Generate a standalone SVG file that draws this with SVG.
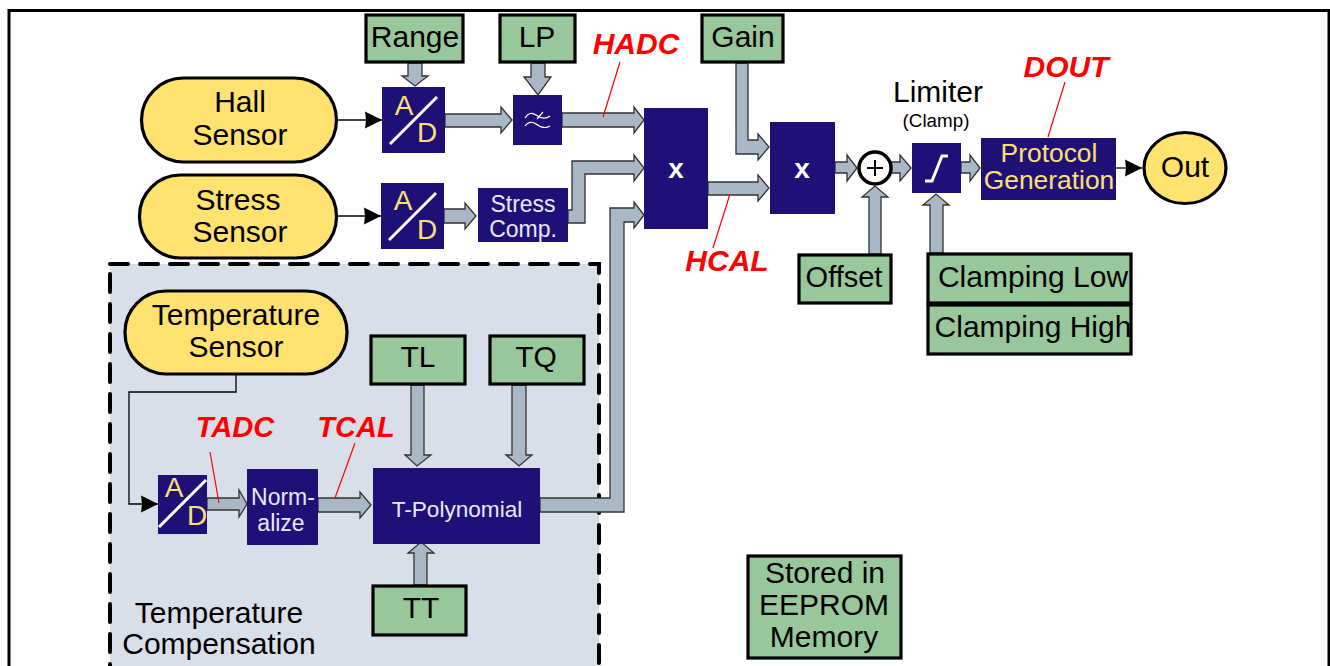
<svg xmlns="http://www.w3.org/2000/svg" width="1330" height="666" viewBox="0 0 1330 666">
<style>
text{font-family:"Liberation Sans",Arial,sans-serif;text-anchor:middle}
.t{font-size:30px;fill:#000}
.g rect{fill:#98c79c;stroke:#000;stroke-width:3.2}
.y{fill:#ffe26f;stroke:#000;stroke-width:3.2}
.b{fill:#1f1078}
.a{fill:#aab8c6;stroke:#333;stroke-width:1.3}
.w{fill:#e8e8f4;font-size:23px}
.o{fill:#fde072;font-size:28px}
.p{fill:#fde072;font-size:26.4px}
.r{font-size:30px;font-weight:bold;font-style:italic;fill:#f00}
.rl{stroke:#f00;stroke-width:1.2;fill:none}
.l{stroke:#000;stroke-width:1.3;fill:none}
.s{stroke:#fff;stroke-width:3;fill:none}
</style>
<defs>
<marker id="h" markerUnits="userSpaceOnUse" markerWidth="18" markerHeight="18" refX="17" refY="9" orient="auto"><path d="M0 0.5L17 9L0 17.5L1 9Z" fill="#000"/></marker>
</defs>
<rect x="9" y="10.5" width="1320" height="670" fill="#fff" stroke="#000" stroke-width="3"/>
<g id="temperature-compensation">
<rect x="110" y="264" width="489" height="440" fill="#d9dfe8"/>
<rect x="110" y="264" width="489" height="440" fill="none" stroke="#000" stroke-width="4" stroke-dasharray="18 12" stroke-linecap="round"/>
<text class="t" x="219" y="623">Temperature</text>
<text class="t" x="219" y="654">Compensation</text>
</g>
<g id="connectors">
<polygon class="a" points="408,63 422,63 422,76 428,76 415,86 402,76 408,76"/>
<polygon class="a" points="531,63 545,63 545,77 551,77 538,95 524,77 531,77"/>
<polygon class="a" points="445,114 501,114 501,107 512,120 501,133 501,127 445,127"/>
<polygon class="a" points="562,113 634,113 634,107 644,120 634,133 634,127 562,127"/>
<polygon class="a" points="444,209 465,209 465,203 476,216 465,229 465,223 444,223"/>
<polygon class="a" points="568,210 572,210 572,161 634,161 634,155 644,168 634,181 634,174 585,174 585,223 568,223"/>
<polygon class="a" points="540,498 610,498 610,208 634,208 634,202 644,215 634,228 634,222 624,222 624,512 540,512"/>
<polygon class="a" points="736,63 748,63 748,140 758,140 758,134 769,147 758,160 758,154 736,154"/>
<polygon class="a" points="708,182 758,182 758,175 769,188 758,201 758,195 708,195"/>
<polygon class="a" points="835,162 847,162 847,155 857,168 847,181 847,173 835,173"/>
<polygon class="a" points="891,162 900,162 900,155 911,168 900,181 900,173 891,173"/>
<polygon class="a" points="961,162 970,162 970,155 980,168 970,181 970,173 961,173"/>
<polygon class="a" points="869,254 869,197 862,197 875,186 888,197 881,197 881,254"/>
<polygon class="a" points="930,253 930,205 923,205 936,194 949,205 943,205 943,253"/>
<polygon class="a" points="207,498 239,498 239,490 247,504 239,517 239,510 207,510"/>
<polygon class="a" points="318,498 360,498 360,492 371,505 360,518 360,512 318,512"/>
<polygon class="a" points="411,385 424,385 424,455 431,455 417,466 405,455 411,455"/>
<polygon class="a" points="512,385 526,385 526,455 532,455 519,466 506,455 512,455"/>
<polygon class="a" points="414,585 414,553 408,553 421,542 434,553 427,553 427,585"/>
<path class="l" d="M336 120H382" marker-end="url(#h)"/>
<path class="l" d="M336 216H381" marker-end="url(#h)"/>
<path class="l" d="M1116 168H1142" marker-end="url(#h)"/>
<path class="l" d="M236 374V392H129V504H158" marker-end="url(#h)"/>
<path class="rl" d="M620 62L603 117M730 194L713 248M1065 82L1048 137M210 452L219 503M355 443L335 498"/>
</g>
<g id="range" class="g"><rect x="366" y="15" width="97" height="47"/><text class="t" x="415" y="47">Range</text></g>
<g id="lp" class="g"><rect x="500" y="15" width="75" height="47"/><text class="t" x="537" y="47">LP</text></g>
<g id="gain" class="g"><rect x="702" y="15" width="81" height="47"/><text class="t" x="743" y="47">Gain</text></g>
<g id="hall"><rect class="y" x="141.500" y="78" width="195" height="84" rx="42"/><text class="t" x="240" y="112">Hall</text><text class="t" x="240" y="145">Sensor</text></g>
<g id="stress"><rect class="y" x="139.500" y="175" width="197" height="83" rx="41"/><text class="t" x="238" y="210">Stress</text><text class="t" x="240" y="242">Sensor</text></g>
<g id="temp"><rect class="y" x="125" y="291" width="222" height="83" rx="41"/><text class="t" x="236" y="325">Temperature</text><text class="t" x="236" y="357">Sensor</text></g>
<g id="ad1"><rect class="b" x="382" y="87" width="63" height="66"/><path class="s" d="M390 144L437 97"/><text class="o" x="404" y="115">A</text><text class="o" x="427" y="142">D</text></g>
<g id="ad2"><rect class="b" x="381" y="183" width="63" height="66"/><path class="s" d="M389 240L436 193"/><text class="o" x="403" y="210">A</text><text class="o" x="427" y="239">D</text></g>
<g id="ad3"><rect class="b" x="158" y="475" width="49" height="59"/><path class="s" d="M159 527L206 480"/><text class="o" x="174" y="497">A</text><text class="o" x="197" y="525">D</text></g>
<g id="lowpass"><rect class="b" x="513" y="95" width="49" height="50"/><path d="M525 118C528 113 532 112 536 115S545 120 550 116M525 126C528 122 532 121 536 124S545 129 550 126M537 119L543 112" stroke="#fff" stroke-width="1.2" fill="none"/></g>
<g id="mult1"><rect class="b" x="644" y="108" width="64" height="121"/><text x="676" y="178" font-size="28" font-weight="bold" fill="#fff">x</text></g>
<g id="mult2"><rect class="b" x="770" y="122" width="65" height="92"/><text x="802" y="178" font-size="28" font-weight="bold" fill="#fff">x</text></g>
<g id="stresscomp"><rect class="b" x="478" y="188" width="90" height="54"/><text class="w" x="523" y="212">Stress</text><text class="w" x="523" y="237">Comp.</text></g>
<g id="normalize"><rect class="b" x="247" y="469" width="71" height="76"/><text class="w" x="283" y="505">Norm-</text><text class="w" x="281" y="531">alize</text></g>
<g id="tpoly"><rect class="b" x="373" y="468" width="167" height="76"/><text class="w" x="457" y="517" style="font-size:22.6px">T-Polynomial</text></g>
<g id="sum"><circle cx="875" cy="168" r="16" fill="#fff" stroke="#000" stroke-width="3.5"/><path d="M875 160V176M867 168H883" stroke="#000" stroke-width="2"/></g>
<g id="limiter"><rect class="b" x="912" y="143" width="49" height="50"/><path d="M925 181H932L942 156H948" stroke="#fff" stroke-width="3" fill="none"/><text class="t" x="938" y="102">Limiter</text><text x="936" y="127" font-size="18.800" fill="#000">(Clamp)</text></g>
<g id="protocol"><rect class="b" x="981" y="138" width="135" height="62"/><text class="p" x="1049" y="162">Protocol</text><text class="p" x="1049" y="189">Generation</text></g>
<g id="out"><ellipse class="y" cx="1185" cy="168" rx="41" ry="35.500"/><text class="t" x="1185" y="177">Out</text></g>
<g id="offset" class="g"><rect x="799" y="255" width="92" height="48"/><text class="t" x="844" y="287" style="font-size:29px">Offset</text></g>
<g id="clamplow" class="g"><rect x="928" y="254" width="203" height="49"/><text class="t" x="1033" y="287">Clamping Low</text></g>
<g id="clamphigh" class="g"><rect x="928" y="305" width="203" height="49"/><text class="t" x="1033" y="337">Clamping High</text></g>
<g id="tl" class="g"><rect x="371" y="336" width="94" height="48"/><text class="t" x="418" y="367">TL</text></g>
<g id="tq" class="g"><rect x="490" y="336" width="94" height="48"/><text class="t" x="536" y="367">TQ</text></g>
<g id="tt" class="g"><rect x="373" y="586" width="93" height="49"/><text class="t" x="421" y="618">TT</text></g>
<g id="legend" class="g"><rect x="748" y="556" width="153" height="102"/><text class="t" x="825" y="583">Stored in</text><text class="t" x="824" y="615">EEPROM</text><text class="t" x="824" y="647">Memory</text></g>
<g id="labels">
<text class="r" x="636" y="54">HADC</text>
<text class="r" x="727" y="271">HCAL</text>
<text class="r" x="1066" y="77">DOUT</text>
<text class="r" x="235" y="437" style="font-size:29px">TADC</text>
<text class="r" x="356" y="437" style="font-size:29px">TCAL</text>
</g>
</svg>
